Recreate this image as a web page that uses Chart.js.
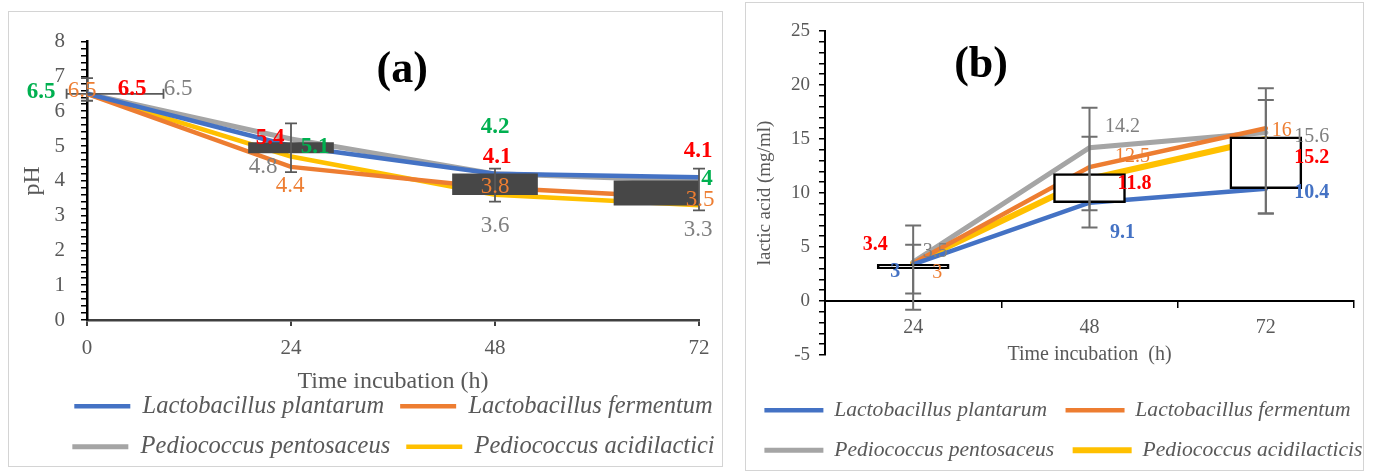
<!DOCTYPE html>
<html>
<head>
<meta charset="utf-8">
<script src="https://cdn.jsdelivr.net/npm/chart.js@4.4.1/dist/chart.umd.min.js"></script>
<style>
  html, body { margin: 0; padding: 0; background: #fff; }
  body { width: 1375px; height: 473px; position: relative; overflow: hidden; }
  .panel { position: absolute; border: 1.5px solid #d4d4d4; box-sizing: border-box; }
  .wrap { position: absolute; }
</style>
</head>
<body>
<div class="panel" style="left:8px;top:11px;width:715px;height:456px"></div>
<div class="panel" style="left:745px;top:2px;width:619px;height:469px"></div>
<div class="wrap" style="left:9px;top:13px;width:769px;height:456px"><canvas id="chartA"></canvas></div>
<div class="wrap" style="left:746px;top:3px;width:660px;height:468px"><canvas id="chartB"></canvas></div>
<script>
const FONT = 'Liberation Serif';
const GREY_TEXT = '#595959';

const namesA = ['Lactobacillus plantarum', 'Lactobacillus fermentum', 'Pediococcus pentosaceus', 'Pediococcus acidilactici'];
const namesB = ['Lactobacillus plantarum', 'Lactobacillus fermentum', 'Pediococcus pentosaceus', 'Pediococcus acidilacticis'];
const lineColors = ['#4472C4', '#ED7D31', '#A5A5A5', '#FFC000'];

// (a) pH
const phTimes = [0, 24, 48, 72];
const phPlantarum = [6.5, 5.0, 4.2, 4.1];
const phFermentum = [6.5, 4.4, 3.8, 3.5];
const phPentosaceus = [6.5, 5.2, 4.2, 4.0];
const phAcidilactici = [6.5, 4.7, 3.6, 3.3];
const phBoxTimes = [24, 48, 72];
const phBoxLow = [4.8, 3.6, 3.3];
const phBoxHigh = [5.1, 4.2, 4.0];
const phErrLow = [6.3, 4.25, 3.4, 3.15];
const phErrHigh = [6.95, 5.65, 4.35, 4.35];
const phHErrY = [6.5];
const phHErrLow = [-2.4];
const phHErrHigh = [9];
const phLabelGreen = [6.5, 5.1, 4.2, 4];
const phLabelRed = [6.5, 5.4, 4.1, 4.1];
const phLabelGrey = [6.5, 4.8, 3.6, 3.3];
const phLabelOrange = [6.5, 4.4, 3.8, 3.5];

// (b) lactic acid
const laCats = ['24', '48', '72'];
const laPlantarum = [3.4, 9.1, 10.4];
const laFermentum = [3.5, 12.4, 16.0];
const laPentosaceus = [3.6, 14.2, 15.6];
const laAcidilacticis = [3.5, 11.3, 15.0];
const laBoxLow = [3.0, 9.1, 10.4];
const laBoxHigh = [3.4, 11.8, 15.2];
const laErrLow1 = [-0.8, 6.8, 8.1];
const laErrHigh1 = [7.0, 17.9, 19.7];
const laErrLow2 = [0.7, 8.4, 8.1];
const laErrHigh2 = [5.2, 15.2, 18.6];
const laLabelRed = [3.4, 11.8, 15.2];
const laLabelGrey = [3.5, 14.2, 15.6];
const laLabelBlue = [3, 9.1, 10.4];
const laLabelOrange = [3, 12.5, 16];

// label offsets in px (style only)
const phOffGreen = [[-46, -2], [24, 5], [0, -47], [8, -2]];
const phOffRed = [[45, -5], [-21, 6], [2, -20], [-1, -26]];
const phOffGrey = [[91, -5], [-28, 14], [0, 31], [-1, 25]];
const phOffOrange = [[-5, -3], [-1, 19], [0, -1], [1, 2]];
const laOffRed = [[-38, -19], [45, 10], [46, 21]];
const laOffGrey = [[22, -11], [33, -21], [46, 4]];
const laOffBlue = [[-18, 3], [33, 30], [46, 4]];
const laOffOrange = [[24, 4], [43, -9], [16, 3]];

const overlay = {
  id: 'overlay',
  afterDatasetsUpdate(chart) {
    // keep the floating boxes inside the plot area
    const area = chart.chartArea;
    chart.data.datasets.forEach((ds, i) => {
      if (ds.type !== 'bar') return;
      chart.getDatasetMeta(i).data.forEach(el => {
        const half = el.width / 2;
        if (el.x + half > area.right) el.x = area.right - half;
      });
    });
  },
  afterDatasetsDraw(chart, args, opts) {
    const ctx = chart.ctx, xs = chart.scales.x, ys = chart.scales.y;
    ctx.save();
    ctx.strokeStyle = opts.errColor;
    ctx.lineWidth = opts.errWidth;
    (opts.errors || []).forEach(set => {
      set.x.forEach((xv, i) => {
        const px = xs.getPixelForValue(xv);
        const top = ys.getPixelForValue(set.high[i]);
        const bot = ys.getPixelForValue(set.low[i]);
        ctx.beginPath();
        ctx.moveTo(px, top); ctx.lineTo(px, bot);
        ctx.moveTo(px - opts.cap, top); ctx.lineTo(px + opts.cap, top);
        ctx.moveTo(px - opts.cap, bot); ctx.lineTo(px + opts.cap, bot);
        ctx.stroke();
      });
    });
    (opts.hErrors || []).forEach(set => {
      set.y.forEach((yv, i) => {
        const py = ys.getPixelForValue(yv);
        const l = xs.getPixelForValue(set.low[i]);
        const r = xs.getPixelForValue(set.high[i]);
        ctx.beginPath();
        ctx.moveTo(l, py); ctx.lineTo(r, py);
        ctx.moveTo(l, py - 5); ctx.lineTo(l, py + 5);
        ctx.moveTo(r, py - 5); ctx.lineTo(r, py + 5);
        ctx.stroke();
      });
    });
    ctx.textAlign = 'center';
    ctx.textBaseline = 'middle';
    (opts.labels || []).forEach(g => {
      ctx.fillStyle = g.color;
      ctx.font = (g.bold ? 'bold ' : '') + opts.labelSize + 'px "' + FONT + '"';
      g.values.forEach((v, i) => {
        const px = xs.getPixelForValue(g.x[i]) + g.off[i][0];
        const py = ys.getPixelForValue(v) + g.off[i][1];
        ctx.fillText(String(v), px, py);
      });
    });
    const a = chart.chartArea;
    ctx.fillStyle = '#000';
    ctx.font = 'bold 44px "' + FONT + '"';
    ctx.fillText(opts.title, a.left + a.width * opts.titleX, a.top + a.height * opts.titleY);
    ctx.restore();
  }
};

function legendOpts(size, pad, lineW, align) {
  return {
    position: 'bottom',
    align: align,
    labels: {
      filter: item => item.datasetIndex > 0,
      usePointStyle: true,
      pointStyle: 'line',
      pointStyleWidth: lineW,
      color: GREY_TEXT,
      font: { family: FONT, size: size, style: 'italic' },
      padding: pad
    }
  };
}

function lineDs(label, data, color, width) {
  return {
    label: label, data: data, borderColor: color, backgroundColor: color,
    borderWidth: width, borderCapStyle: 'round', pointRadius: 0, tension: 0
  };
}

const padAxis = { type: 'linear', ticks: { display: false }, grid: { display: false }, border: { display: false } };

// ---------- chart (a) ----------
new Chart(document.getElementById('chartA'), {
  type: 'line',
  data: {
    datasets: [
      {
        type: 'bar', label: 'box',
        data: phBoxTimes.map((t, i) => ({ x: t, y: [phBoxLow[i], phBoxHigh[i]] })),
        backgroundColor: '#474747', borderWidth: 0, barThickness: 85
      },
      lineDs(namesA[0], phTimes.map((t, i) => ({ x: t, y: phPlantarum[i] })), lineColors[0], 4.5),
      lineDs(namesA[1], phTimes.map((t, i) => ({ x: t, y: phFermentum[i] })), lineColors[1], 4.5),
      lineDs(namesA[2], phTimes.map((t, i) => ({ x: t, y: phPentosaceus[i] })), lineColors[2], 5),
      lineDs(namesA[3], phTimes.map((t, i) => ({ x: t, y: phAcidilactici[i] })), lineColors[3], 4.5)
    ]
  },
  options: {
    responsive: true,
    maintainAspectRatio: false,
    animation: false,
    events: [],
    layout: { padding: { top: 20, bottom: 0, left: 0, right: 0 } },
    scales: {
      x: {
        type: 'linear', min: 0, max: 72, offset: false,
        afterFit: s => { s.height = 58; },
        ticks: { stepSize: 24, color: GREY_TEXT, font: { family: FONT, size: 21 }, padding: 10 },
        grid: { offset: false, drawOnChartArea: false, tickLength: 6, color: '#404040', lineWidth: 2 },
        border: { color: '#404040', width: 2.5 },
        title: { display: true, text: 'Time incubation (h)', color: GREY_TEXT, font: { family: FONT, size: 24 }, padding: { top: 0, bottom: -18 } }
      },
      y: {
        min: 0, max: 8,
        afterFit: s => { s.width = 78; },
        ticks: {
          stepSize: 0.2, autoSkip: false, color: GREY_TEXT, font: { family: FONT, size: 21 }, padding: 16,
          callback: v => Math.abs(v - Math.round(v)) < 1e-6 ? Math.round(v) : ''
        },
        grid: { drawOnChartArea: false, tickLength: 6, color: '#000', lineWidth: 1.5 },
        border: { color: '#000', width: 2.5 },
        title: { display: true, text: 'pH', color: GREY_TEXT, font: { family: FONT, size: 24 }, padding: { top: 9.6, bottom: 0 } }
      },
      yPad: Object.assign({ position: 'right', afterFit: s => { s.width = 79; } }, padAxis)
    },
    plugins: {
      legend: legendOpts(24.5, 16, 56, 'center'),
      tooltip: { enabled: false },
      overlay: {
        title: '(a)', titleX: 0.515, titleY: 0.104,
        errColor: '#595959', errWidth: 1.8, cap: 6,
        errors: [{ x: phTimes, low: phErrLow, high: phErrHigh }],
        hErrors: [{ y: phHErrY, low: phHErrLow, high: phHErrHigh }],
        labelSize: 23,
        labels: [
          { x: phTimes, values: phLabelOrange, off: phOffOrange, color: '#ED7D31', bold: false },
          { x: phTimes, values: phLabelGrey, off: phOffGrey, color: '#7F7F7F', bold: false },
          { x: phTimes, values: phLabelRed, off: phOffRed, color: '#FF0000', bold: true },
          { x: phTimes, values: phLabelGreen, off: phOffGreen, color: '#00B050', bold: true }
        ]
      }
    }
  },
  plugins: [overlay]
});

// ---------- chart (b) ----------
new Chart(document.getElementById('chartB'), {
  type: 'line',
  data: {
    labels: laCats,
    datasets: [
      {
        type: 'bar', label: 'box',
        data: laBoxLow.map((lo, i) => [lo, laBoxHigh[i]]),
        backgroundColor: '#fff', borderColor: '#000', borderWidth: 2.5, borderSkipped: false, barThickness: 72
      },
      lineDs(namesB[0], laPlantarum, lineColors[0], 4.5),
      lineDs(namesB[1], laFermentum, lineColors[1], 4.5),
      lineDs(namesB[2], laPentosaceus, lineColors[2], 5),
      lineDs(namesB[3], laAcidilacticis, lineColors[3], 6)
    ]
  },
  options: {
    responsive: true,
    maintainAspectRatio: false,
    animation: false,
    events: [],
    layout: { padding: { top: 28, bottom: 0, left: 0, right: 0 } },
    scales: {
      x: {
        type: 'category', offset: true, position: { y: 0 },
        afterFit: s => { s.height = 66; },
        ticks: { color: GREY_TEXT, font: { family: FONT, size: 20 }, padding: 9 },
        grid: { offset: true, drawOnChartArea: false, tickLength: 6, color: '#000', lineWidth: 1.5 },
        border: { color: '#000', width: 2 },
        title: { display: true, text: 'Time incubation  (h)', color: GREY_TEXT, font: { family: FONT, size: 20 }, padding: { top: 0, bottom: 0 } }
      },
      xPad: Object.assign({ position: 'bottom', afterFit: s => { s.height = 26; } }, padAxis),
      y: {
        min: -5, max: 25,
        afterFit: s => { s.width = 79; },
        ticks: {
          stepSize: 1, autoSkip: false, color: GREY_TEXT, font: { family: FONT, size: 19 }, padding: 9,
          callback: v => (Math.round(v) % 5 === 0 ? Math.round(v) : '')
        },
        grid: { drawOnChartArea: false, tickLength: 6, color: '#000', lineWidth: 1.5 },
        border: { color: '#000', width: 2 },
        title: { display: true, text: 'lactic acid (mg/ml)', color: GREY_TEXT, font: { family: FONT, size: 19 }, padding: { top: 7.6, bottom: 0 } }
      },
      yPad: Object.assign({ position: 'right', afterFit: s => { s.width = 52; } }, padAxis)
    },
    plugins: {
      legend: legendOpts(21.6, 18.4, 59, 'start'),
      tooltip: { enabled: false },
      overlay: {
        title: '(b)', titleX: 0.295, titleY: 0.108,
        errColor: '#6f6f6f', errWidth: 2, cap: 8,
        errors: [
          { x: [0, 1, 2], low: laErrLow1, high: laErrHigh1 },
          { x: [0, 1, 2], low: laErrLow2, high: laErrHigh2 }
        ],
        labelSize: 20,
        labels: [
          { x: [0, 1, 2], values: laLabelGrey, off: laOffGrey, color: '#7F7F7F', bold: false },
          { x: [0, 1, 2], values: laLabelOrange, off: laOffOrange, color: '#ED7D31', bold: false },
          { x: [0, 1, 2], values: laLabelBlue, off: laOffBlue, color: '#4472C4', bold: true },
          { x: [0, 1, 2], values: laLabelRed, off: laOffRed, color: '#FF0000', bold: true }
        ]
      }
    }
  },
  plugins: [overlay]
});
</script>
</body>
</html>
